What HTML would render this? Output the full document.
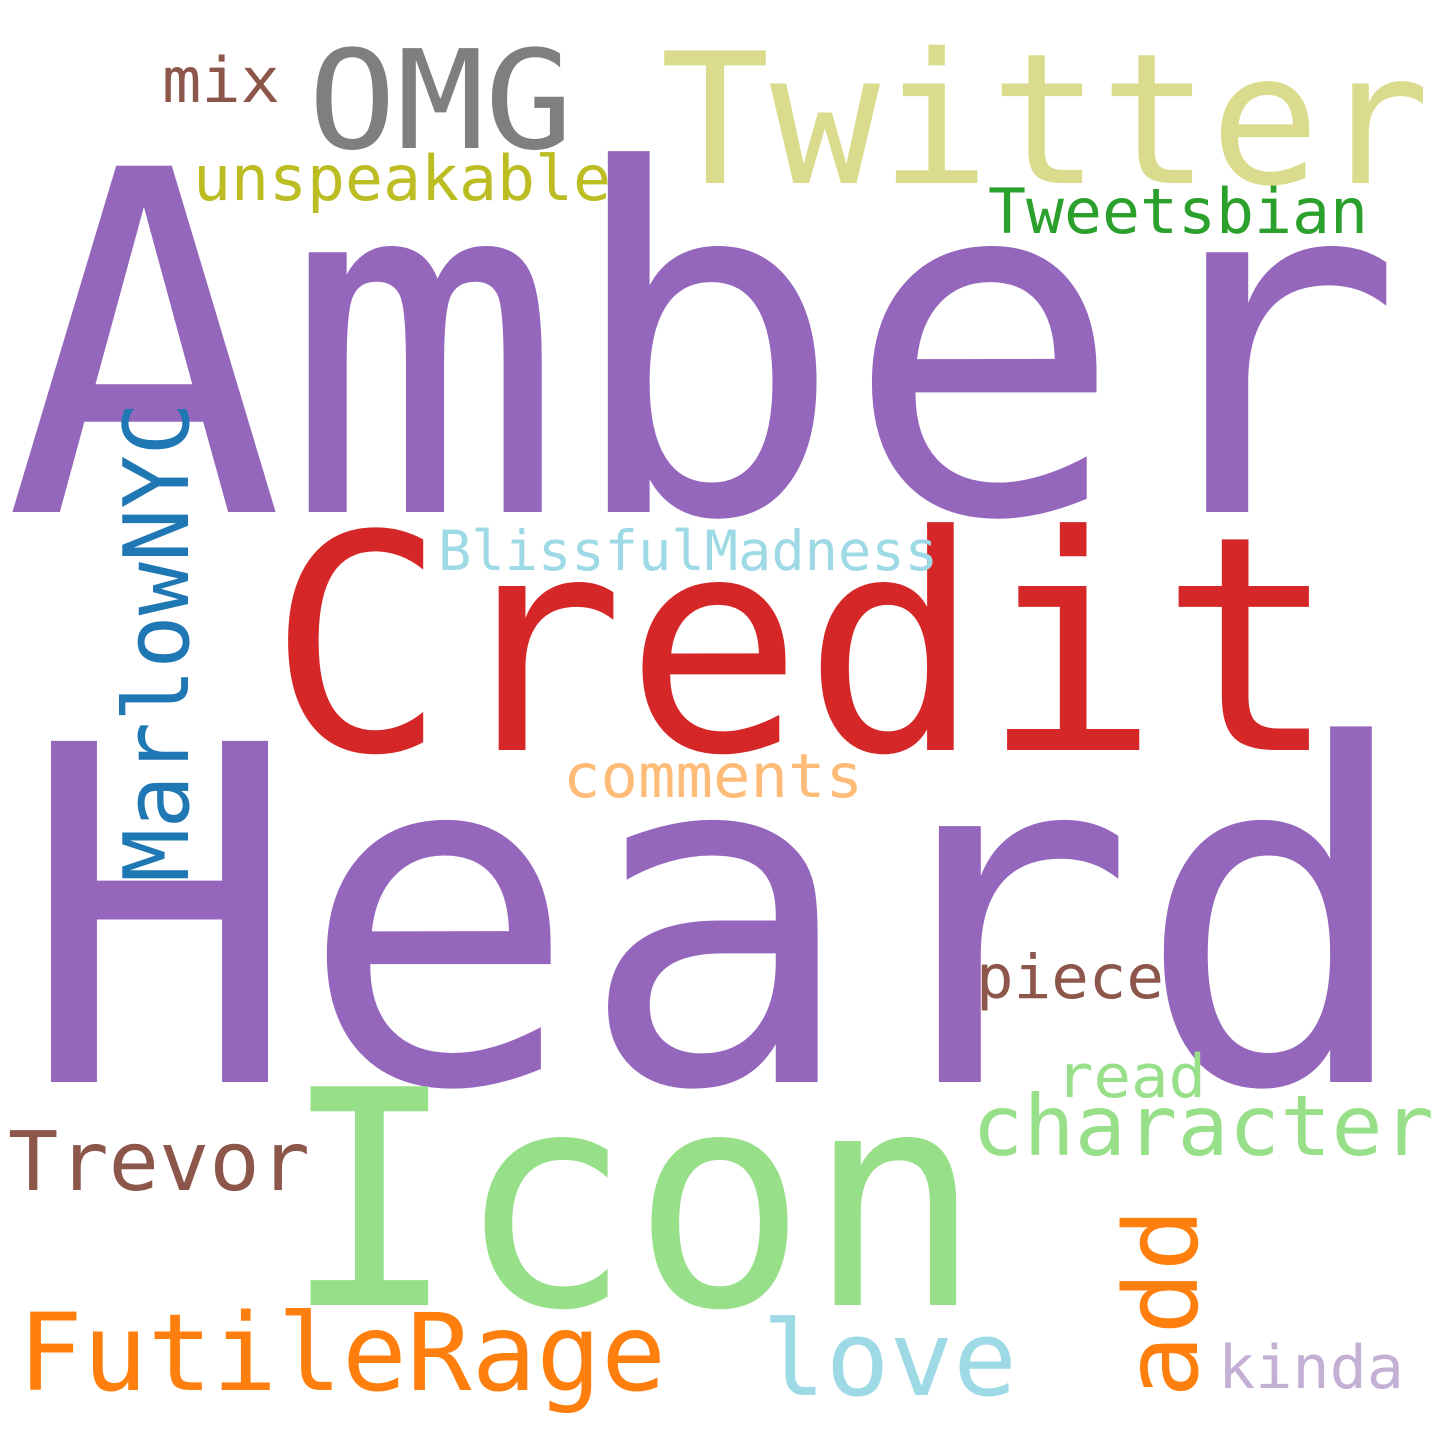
<!DOCTYPE html>
<html><head><meta charset="utf-8"><style>
html,body{margin:0;padding:0;background:#fff;}
svg{display:block;}
text{font-family:"DejaVu Sans Mono","Liberation Mono",monospace;}
</style></head><body>
<svg width="1440" height="1440" viewBox="0 0 1440 1440">
<rect width="1440" height="1440" fill="#fff"/>
<text x="4" y="512" font-size="475" fill="#9467bd" textLength="1400" lengthAdjust="spacingAndGlyphs">Amber</text>
<text x="20" y="1082" font-size="468" fill="#9467bd" textLength="1395" lengthAdjust="spacingAndGlyphs">Heard</text>
<text x="268" y="750" font-size="300" fill="#d62728" textLength="1070" lengthAdjust="spacingAndGlyphs">Credit</text>
<text x="660" y="183" font-size="182" fill="#dbdb8d" textLength="770" lengthAdjust="spacingAndGlyphs">Twitter</text>
<text x="308" y="148" font-size="137" fill="#7f7f7f" textLength="265" lengthAdjust="spacingAndGlyphs">OMG</text>
<text x="162" y="102" font-size="62" fill="#8c564b" textLength="118" lengthAdjust="spacingAndGlyphs">mix</text>
<text x="193" y="200" font-size="62" fill="#bcbd22" textLength="418" lengthAdjust="spacingAndGlyphs">unspeakable</text>
<text x="988" y="233" font-size="62" fill="#2ca02c" textLength="380" lengthAdjust="spacingAndGlyphs">Tweetsbian</text>
<text transform="translate(188,882) rotate(-90)" x="0" y="0" font-size="90" fill="#1f77b4" textLength="480" lengthAdjust="spacingAndGlyphs">MarlowNYC</text>
<text x="438" y="570" font-size="55" fill="#9edae5" textLength="500" lengthAdjust="spacingAndGlyphs">BlissfulMadness</text>
<text x="563" y="797" font-size="61" fill="#ffbb78" textLength="300" lengthAdjust="spacingAndGlyphs">comments</text>
<text x="976" y="998" font-size="61" fill="#8c564b" textLength="188" lengthAdjust="spacingAndGlyphs">piece</text>
<text x="1056" y="1097" font-size="60" fill="#98df8a" textLength="150" lengthAdjust="spacingAndGlyphs">read</text>
<text x="972" y="1155" font-size="84" fill="#98df8a" textLength="462" lengthAdjust="spacingAndGlyphs">character</text>
<text x="8" y="1190" font-size="82" fill="#8c564b" textLength="302" lengthAdjust="spacingAndGlyphs">Trevor</text>
<text x="282" y="1305" font-size="300" fill="#98df8a" textLength="700" lengthAdjust="spacingAndGlyphs">Icon</text>
<text transform="translate(1197,1398) rotate(-90)" x="0" y="0" font-size="102" fill="#ff7f0e" textLength="190" lengthAdjust="spacingAndGlyphs">add</text>
<text x="18" y="1390" font-size="107" fill="#ff7f0e" textLength="648" lengthAdjust="spacingAndGlyphs">FutileRage</text>
<text x="762" y="1395" font-size="104" fill="#9edae5" textLength="255" lengthAdjust="spacingAndGlyphs">love</text>
<text x="1218" y="1388" font-size="60" fill="#c5b0d5" textLength="186" lengthAdjust="spacingAndGlyphs">kinda</text>
</svg>
</body></html>
